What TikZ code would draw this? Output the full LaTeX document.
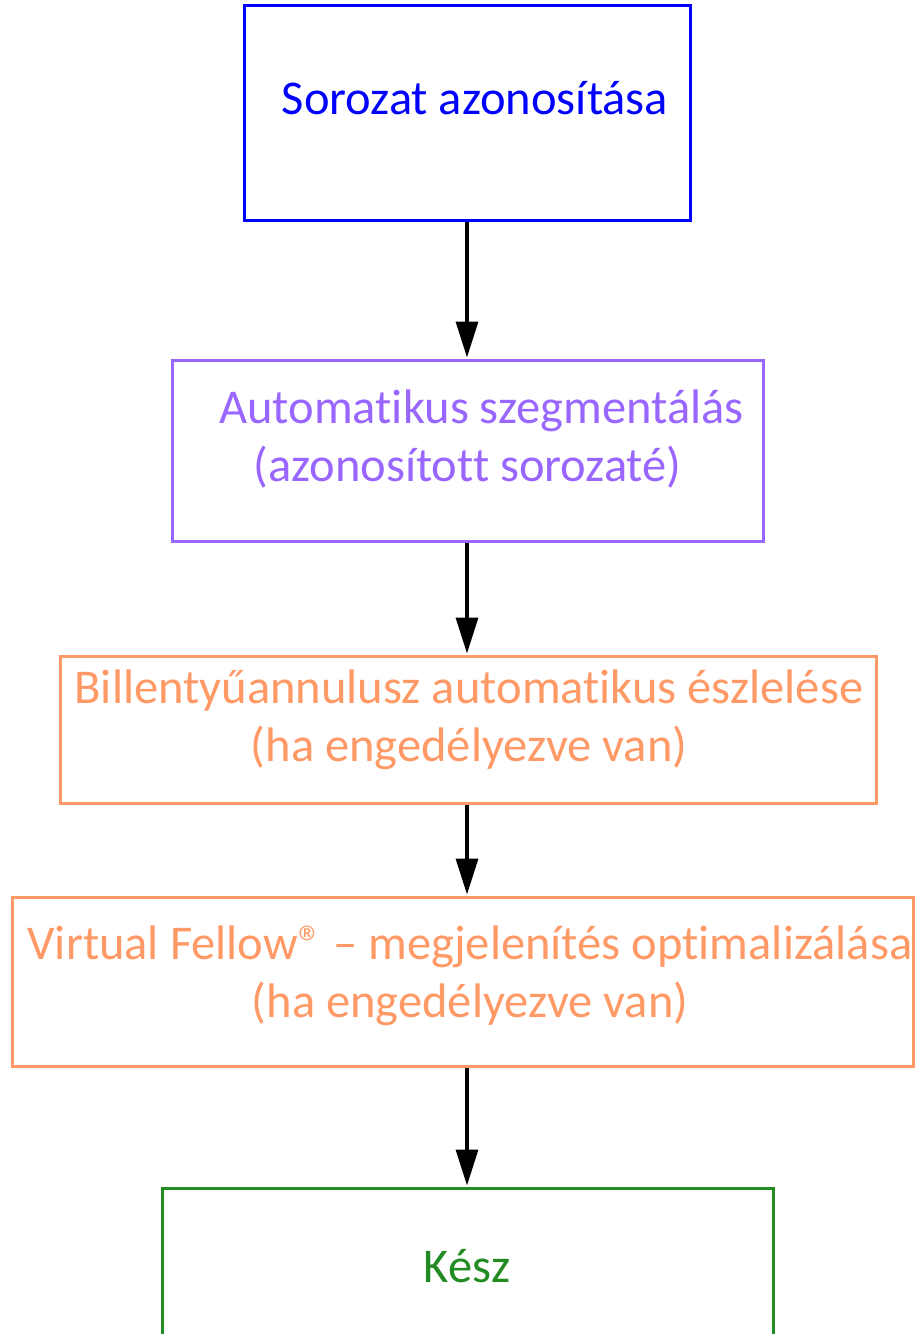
\documentclass[tikz,border=0pt]{standalone}
\usepackage{fontspec}
\setmainfont[Ligatures={CommonOff}]{Carlito}
\usetikzlibrary{arrows.meta}
\definecolor{cblue}{HTML}{0000FF}
\definecolor{cpurple}{HTML}{9966FF}
\definecolor{corange}{HTML}{FF9966}
\definecolor{cgreen}{HTML}{228B22}
\begin{document}
\begin{tikzpicture}[x=1pt,y=-1pt,
  boxstyle/.style={draw, line width=3pt, inner sep=0pt, fill=white},
  labelstyle/.style={align=center, inner sep=0pt, font=\fontsize{48.5}{58}\selectfont},
  flow/.style={line width=3.3pt, -{Triangle[length=36pt,width=22pt]}, shorten >=1pt}]
\useasboundingbox (0,0) rectangle (915,1334);
% boxes
\node[boxstyle, draw=cblue, minimum width=446pt, minimum height=215pt] (b1) at (467,112.5) {};
\node[boxstyle, draw=cpurple, minimum width=591pt, minimum height=181pt] (b2) at (467.5,450.5) {};
\node[boxstyle, draw=corange, minimum width=816pt, minimum height=147pt] (b3) at (468,729.5) {};
\node[boxstyle, draw=corange, minimum width=901pt, minimum height=169pt] (b4) at (462.5,981.5) {};
\node[boxstyle, draw=cgreen, minimum width=611pt, minimum height=200pt] (b5) at (467.5,1288) {};
% labels
\node[labelstyle, text=cblue] (t1) at (475,98) {Sorozat azonosítása};
\node[labelstyle, text=cpurple] (t2) at (467.5,439) {\hspace*{28pt}Automatikus szegmentálás\\(azonosított sorozaté)};
\node[labelstyle, text=corange] (t3) at (469,720) {Billentyűannulusz automatikus észlelése\\(ha engedélyezve van)};
\node[labelstyle, text=corange] (t4) at (470,976) {Virtual Fellow® – megjelenítés optimalizálása\\(ha engedélyezve van)};
\node[labelstyle, text=cgreen] (t5) at (467,1266) {Kész};
% connectors (all on the vertical axis x = 467)
\draw[flow] (b1.south) -- (b2.north -| b1.south);
\draw[flow] (b2.south -| b1.south) -- (b3.north -| b1.south);
\draw[flow] (b3.south -| b1.south) -- (b4.north -| b1.south);
\draw[flow] (b4.south -| b1.south) -- (b5.north -| b1.south);
\end{tikzpicture}
\end{document}
